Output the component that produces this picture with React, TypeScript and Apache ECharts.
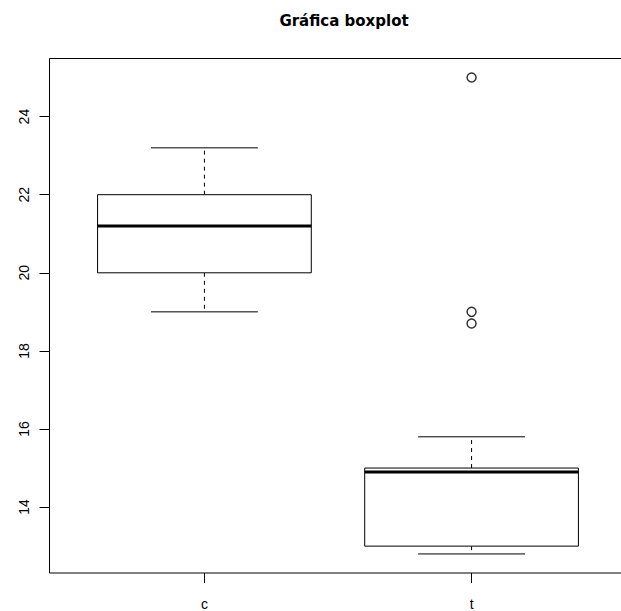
import React, { useEffect, useRef } from "react";
import * as echarts from "echarts";

const categories = ["c", "t"];
const lowerWhisker = [19.0, 12.8];
const q1 = [20.0, 13.0];
const median = [21.2, 14.9];
const q3 = [22.0, 15.0];
const upperWhisker = [23.2, 15.8];
// [category index, value]
const outliers: [number, number][] = [
  [1, 25.0],
  [1, 19.0],
  [1, 18.7],
];
const yTicks = [14, 16, 18, 20, 22, 24];

export default function App() {
  const ref = useRef<HTMLDivElement>(null);
  useEffect(() => {
    if (!ref.current) return;
    const chart = echarts.init(ref.current, null, { renderer: "svg" });

    const allVals = [...lowerWhisker, ...upperWhisker, ...outliers.map((o) => o[1])];
    const dMin = Math.min(...allVals);
    const dMax = Math.max(...allVals);
    const ext = (dMax - dMin) * 0.04;
    const n = categories.length;
    const xExt = n * 0.04;

    const boxData = categories.map((_, i) => [
      i + 1,
      lowerWhisker[i],
      q1[i],
      median[i],
      q3[i],
      upperWhisker[i],
    ]);

    const font = "Liberation Sans";

    const option = {
      animation: false,
      backgroundColor: "#fff",
      title: {
        text: "Gráfica boxplot",
        left: 339,
        top: 8,
        textAlign: "center",
        textStyle: { fontFamily: "DejaVu Sans", fontWeight: "bold", fontSize: 15, color: "#000" },
      },
      grid: {
        left: 49.5,
        top: 58.5,
        width: 577,
        height: 515,
        show: true,
        borderColor: "#000",
        borderWidth: 1,
        backgroundColor: "transparent",
      },
      xAxis: {
        type: "value",
        min: 0.5 - xExt,
        max: n + 0.5 + xExt,
        axisLine: { show: false },
        splitLine: { show: false },
        axisTick: { show: true, length: 10, customValues: categories.map((_, i) => i + 1), lineStyle: { color: "#000" } },
        axisLabel: {
          show: true,
          customValues: categories.map((_, i) => i + 1),
          formatter: (v: number) => categories[Math.round(v) - 1] ?? "",
          margin: 24,
          fontFamily: font,
          fontSize: 14,
          color: "#000",
        },
      },
      yAxis: {
        type: "value",
        min: dMin - ext,
        max: dMax + ext,
        axisLine: { show: false },
        splitLine: { show: false },
        axisTick: { show: true, length: 10, customValues: yTicks, lineStyle: { color: "#000" } },
        axisLabel: {
          show: true,
          customValues: yTicks,
          rotate: 90,
          margin: 19,
          fontFamily: font,
          fontSize: 14,
          color: "#000",
        },
      },
      series: [
        {
          type: "custom",
          data: boxData,
          encode: { x: 0, y: [1, 2, 3, 4, 5] },
          renderItem: (params: any, api: any) => {
            const x = api.value(0);
            const lw = api.value(1);
            const b1 = api.value(2);
            const md = api.value(3);
            const b3 = api.value(4);
            const uw = api.value(5);
            const pLw = api.coord([x, lw]);
            const pQ1 = api.coord([x, b1]);
            const pMd = api.coord([x, md]);
            const pQ3 = api.coord([x, b3]);
            const pUw = api.coord([x, uw]);
            const half = api.size([0.4, 0])[0];
            const capHalf = api.size([0.2, 0])[0];
            const cx = pMd[0];
            const stroke = { stroke: "#000", lineWidth: 1, fill: null };
            const dashed = { stroke: "#000", lineWidth: 1, lineDash: [4, 4] };
            return {
              type: "group",
              children: [
                { type: "line", shape: { x1: cx, y1: pQ3[1], x2: cx, y2: pUw[1] }, style: dashed },
                { type: "line", shape: { x1: cx, y1: pQ1[1], x2: cx, y2: pLw[1] }, style: dashed },
                { type: "line", shape: { x1: cx - capHalf, y1: pUw[1], x2: cx + capHalf, y2: pUw[1] }, style: stroke },
                { type: "line", shape: { x1: cx - capHalf, y1: pLw[1], x2: cx + capHalf, y2: pLw[1] }, style: stroke },
                {
                  type: "rect",
                  shape: { x: cx - half, y: pQ3[1], width: half * 2, height: pQ1[1] - pQ3[1] },
                  style: { stroke: "#000", lineWidth: 1, fill: "#fff" },
                },
                { type: "line", shape: { x1: cx - half, y1: pMd[1], x2: cx + half, y2: pMd[1] }, style: { stroke: "#000", lineWidth: 3 } },
              ],
            };
          },
        },
        {
          type: "scatter",
          data: outliers.map((o) => [o[0] + 1, o[1]]),
          symbol: "circle",
          symbolSize: 9,
          itemStyle: { color: "#fff", borderColor: "#000", borderWidth: 1.5 },
        },
      ],
    };

    chart.setOption(option as any);
    return () => chart.dispose();
  }, []);

  return (
    <div
      style={{ position: "fixed", left: 0, top: 0, width: 621, height: 611, overflow: "hidden", background: "#fff" }}
    >
      <div ref={ref} style={{ width: 640, height: 611 }} />
    </div>
  );
}
